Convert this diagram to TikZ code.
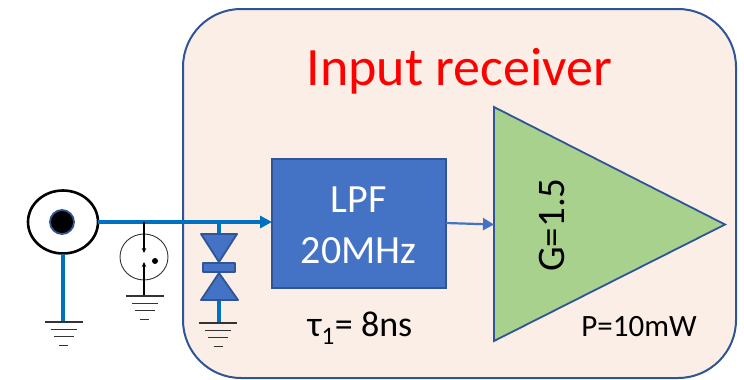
\documentclass[tikz,border=0pt]{standalone}
\usepackage{fontspec}
\setmainfont{Carlito}
\usetikzlibrary{arrows.meta,calc,shapes.geometric}
\definecolor{cfill}{HTML}{FBEEE6}
\definecolor{cedge}{HTML}{2F5597}
\definecolor{wire}{HTML}{0070C0}
\definecolor{bluebox}{HTML}{4472C4}
\definecolor{ampgreen}{HTML}{A9D18E}
\tikzset{
  container/.style={draw=cedge,fill=cfill,line width=2pt,rounded corners=58pt,minimum width=553pt,minimum height=369pt,inner sep=0pt,outer sep=0pt},
  blockbox/.style={draw=cedge,fill=bluebox,line width=1.6pt,minimum width=174pt,minimum height=129pt,inner sep=0pt,outer sep=0pt},
  wireline/.style={draw=wire,line width=3.2pt},
  wirearrow/.style={wireline,-{Triangle[length=12pt,width=12pt]}},
  thinarrow/.style={draw=bluebox,line width=2.2pt,-{Triangle[length=11pt,width=12pt]}},
  diodepart/.style={draw=cedge,fill=bluebox,line width=1.8pt,line join=round},
  gndline/.style={draw=black!80,line width=1.3pt},
  swline/.style={draw=black,line width=1.4pt},
  swarrow/.style={swline,-{Stealth[length=5pt,width=4.5pt]}},
  lbl/.style={inner sep=0pt,outer sep=0pt,align=center},
}
\newcommand{\gnd}[2]{%
  \draw[gndline] (#1-19,#2) -- (#1+19,#2);
  \draw[gndline] (#1-13,#2+7.5) -- (#1+13,#2+7.5);
  \draw[gndline] (#1-10,#2+14.5) -- (#1+10,#2+14.5);
  \draw[gndline] (#1-4.5,#2+23.5) -- (#1+4.5,#2+23.5);
}
\begin{document}
\begin{tikzpicture}[x=1pt,y=-1pt]
\useasboundingbox (0,0) rectangle (744,380);
\node[container] (rx) at (459.5,193.5) {};
\node[lbl,font=\fontsize{54}{54}\selectfont,text=red] (title) at (459.5,71) {Input receiver};

% coax
\node[draw=black,fill=white,ellipse,line width=2.6pt,minimum width=70pt,minimum height=63pt,inner sep=0pt,outer sep=0pt] (coax) at (63,222) {};
\node[circle,draw=cedge,fill=black,line width=1.8pt,minimum size=24pt,inner sep=0pt] (core) at (62,222) {};

% LPF
\node[blockbox] (lpf) at (359,223.5) {};
\node[lbl,text=white,font=\fontsize{40}{40}\selectfont] (lpfa) at (358.5,200) {LPF};
\node[lbl,text=white,font=\fontsize{40}{40}\selectfont] (lpfb) at (358.5,251) {20MHz};
\node[lbl,font=\fontsize{36}{36}\selectfont] (tau) at (360,328) {τ\textsubscript{1}= 8ns};

% amplifier
\coordinate (ampa) at (494,107);
\coordinate (ampb) at (725,224.5);
\coordinate (ampc) at (494,341);
\coordinate (ampin) at (494,224.5);
\draw[draw=cedge,fill=ampgreen,line width=1.8pt,line join=miter] (ampa) -- (ampb) -- (ampc) -- cycle;
\node[lbl,rotate=90,font=\fontsize{39}{39}\selectfont] (gain) at (552,225) {G=1.5};
\node[lbl,font=\fontsize{31}{31}\selectfont] (pwr) at (639,327) {P=10mW};
\draw[thinarrow] (lpf.east |- 0,223) -- (ampin);

% main wire
\coordinate (lpfin) at (lpf.west |- coax.east);
\draw[wirearrow] (coax.east) -- (lpfin);

% coax ground
\coordinate (g1) at (63,322);
\draw[wireline] (coax.south) -- (g1);
\gnd{63.5}{322}

% switch
\coordinate (swtop) at (144,222);
\coordinate (g2) at (144,296);
\node[draw=black!80,ellipse,line width=.9pt,minimum width=48pt,minimum height=46pt,inner sep=0pt] (sw) at (144,257) {};
\coordinate (swa) at (144,253);
\coordinate (swb) at (144,262);
\draw[swarrow] (swtop) -- (swa);
\draw[swarrow] (g2) -- (swb);
\fill (155,261) circle (3pt);
\gnd{144.5}{296}

% diode
\coordinate (dtop) at (219,222);
\coordinate (g3) at (219,323);
\draw[wireline] (dtop) -- (219,234);
\draw[wireline] (219,300) -- (g3);
\draw[diodepart] (201,234) -- (237,234) -- (219,262) -- cycle;
\draw[diodepart] (219,273) -- (238,300) -- (201,300) -- cycle;
\draw[diodepart] (203,263) rectangle (235,272);
\gnd{218}{323}
\end{tikzpicture}
\end{document}
